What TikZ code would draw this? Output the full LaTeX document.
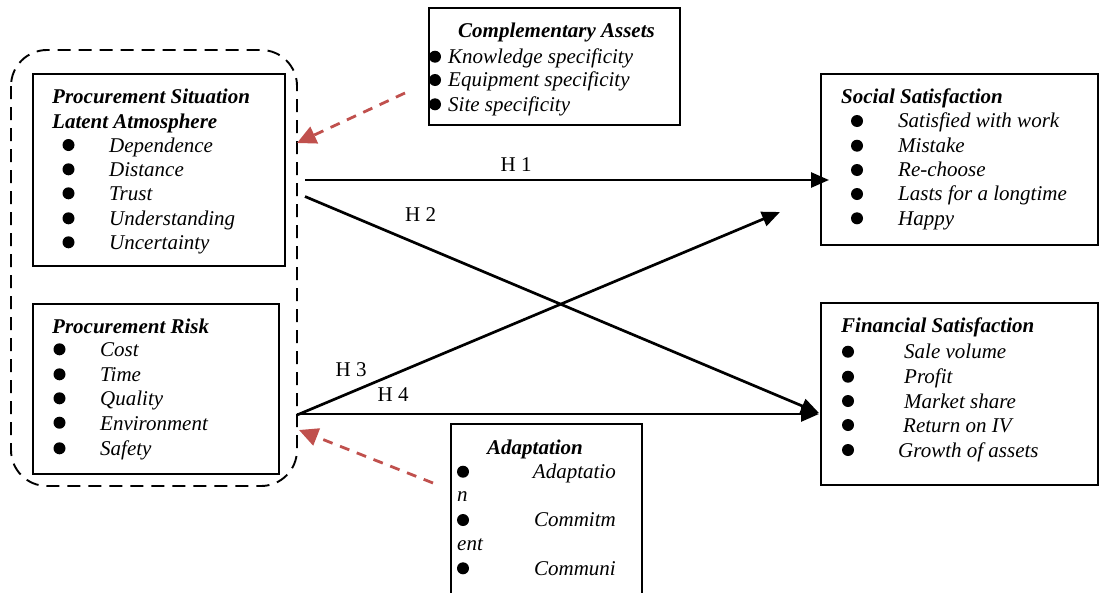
\documentclass[tikz,border=0pt]{standalone}
\usepackage{fontspec}
\setmainfont{Liberation Serif}
\usetikzlibrary{arrows.meta}
\definecolor{redarrow}{RGB}{192,80,77}
\begin{document}
\begin{tikzpicture}[x=1pt,y=-1pt,
  box/.style={draw=black,line width=1.8pt,inner sep=0,anchor=north west},
  it/.style={inner sep=0,anchor=base west,font=\fontsize{21}{24}\selectfont\itshape},
  itr/.style={inner sep=0,anchor=base east,font=\fontsize{21}{24}\selectfont\itshape},
  ttl/.style={inner sep=0,anchor=base west,font=\fontsize{21}{24}\selectfont\bfseries\itshape},
  hlab/.style={inner sep=0,anchor=base west,font=\fontsize{21}{24}\selectfont},
  dot/.style={circle,fill=black,inner sep=0,minimum size=12pt},
  harrow/.style={line width=2.7pt,-{Triangle[length=18pt,width=15pt]}},
  rarrow/.style={draw=redarrow,line width=2.8pt,dash pattern=on 10pt off 8pt,-{Triangle[length=19pt,width=18pt,fill=redarrow]}},
]
\useasboundingbox (0,0) rectangle (1099,592);
\begin{scope}
\clip (0,0) rectangle (1099,592);

% dashed group
\draw[line width=1.9pt,dash pattern=on 13pt off 8pt,rounded corners=36pt] (11,50) rectangle (297,486);

% boxes
\node[box,minimum width=252pt,minimum height=192pt] (psla) at (32,73) {};
\node[box,minimum width=246pt,minimum height=170pt] (risk) at (32,303) {};
\node[box,minimum width=251pt,minimum height=117pt] (comp) at (428,7) {};
\node[box,minimum width=191pt,minimum height=200pt] (adap) at (450,423) {};
\node[box,minimum width=277pt,minimum height=171pt] (soc) at (820,73) {};
\node[box,minimum width=277pt,minimum height=182pt] (fin) at (820,302) {};

% Procurement Situation Latent Atmosphere
\node[ttl] (t1a) at (52,103.5) {Procurement Situation};
\node[ttl] (t1b) at (52,128) {Latent Atmosphere};
\foreach \y/\t [count=\i] in {145/Dependence,169.3/Distance,193.3/Trust,218.3/Understanding,242.3/Uncertainty}{
  \node[dot] (b1\i) at (68.5,\y) {};
  \node[it] (i1\i) at (109,\y+7.5) {\t};
}

% Procurement Risk
\node[ttl] (t2) at (52,333.3) {Procurement Risk};
\foreach \y/\t [count=\i] in {349.3/Cost,374.3/Time,398.3/Quality,422.7/Environment,448.3/Safety}{
  \node[dot] (b2\i) at (59.5,\y) {};
  \node[it] (i2\i) at (100,\y+7.5) {\t};
}

% Complementary Assets
\node[ttl] (t3) at (458,37.5) {Complementary Assets};
\foreach \y/\t [count=\i] in {56.7/Knowledge specificity,80/Equipment specificity,104.3/Site specificity}{
  \node[dot] (b3\i) at (435,\y) {};
  \node[it] (i3\i) at (448,\y+6.8) {\t};
}

% Adaptation
\node[ttl] (t4) at (487,454.3) {Adaptation};
\node[dot] (b41) at (463,471.7) {};
\node[itr] (i41) at (616,478.3) {Adaptatio};
\node[it] (i41b) at (457,501.7) {n};
\node[dot] (b42) at (463,520) {};
\node[itr] (i42) at (616,526.7) {Commitm};
\node[it] (i42b) at (457,550) {ent};
\node[dot] (b43) at (463,568.3) {};
\node[itr] (i43) at (616,575) {Communi};

% Social Satisfaction
\node[ttl] (t5) at (841,103.3) {Social Satisfaction};
\foreach \y/\t [count=\i] in {121/Satisfied with work,145.7/Mistake,170/Re-choose,194/Lasts for a longtime,218.3/Happy}{
  \node[dot] (b5\i) at (857,\y) {};
  \node[it] (i5\i) at (898,\y+6.8) {\t};
}

% Financial Satisfaction
\node[ttl] (t6) at (841,332.3) {Financial Satisfaction};
\foreach \y/\t/\x [count=\i] in {351.7/Sale volume/904,376.7/Profit/904,401/Market share/904,425/Return on IV/903,450/Growth of assets/898}{
  \node[dot] (b6\i) at (848,\y) {};
  \node[it] (i6\i) at (\x,\y+7) {\t};
}

% connector end points
\coordinate (h1s) at (305,180);
\coordinate (h1e) at (829,180);
\coordinate (h2s) at (305,196.5);
\coordinate (h2e) at (819,413);
\coordinate (h3s) at (297,415);
\coordinate (h3e) at (780,212);
\coordinate (h4s) at (297,414);
\coordinate (h4e) at (819,405);
\coordinate (r1s) at (405,93);
\coordinate (r1e) at (297,143);
\coordinate (r2s) at (433,483);
\coordinate (r2e) at (299,430);

\draw[harrow] (h1s) -- (h1e);
\draw[harrow] (h2s) -- (h2e);
\draw[harrow] (h3s) -- (h3e);
\draw[harrow] (h4s) -- (h4s -| h4e);

\node[hlab] (l1) at (500.5,171) {H 1};
\node[hlab] (l2) at (405,221.5) {H 2};
\node[hlab] (l3) at (335.5,376.5) {H 3};
\node[hlab] (l4) at (377.5,401.5) {H 4};

\draw[rarrow] (r1s) -- (r1e);
\draw[rarrow] (r2s) -- (r2e);
\end{scope}
\end{tikzpicture}
\end{document}
